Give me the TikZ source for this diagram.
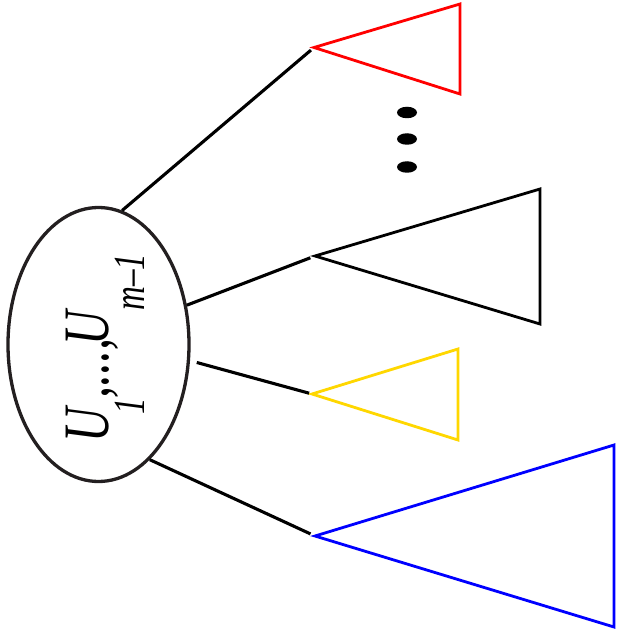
\documentclass[tikz,border=0pt]{standalone}
\usepackage{fontspec}
\setmainfont{Liberation Serif}
\usetikzlibrary{shapes.geometric}
\definecolor{ellgray}{HTML}{231F20}
\definecolor{goldy}{HTML}{FFD700}
\newcommand{\subtxt}[1]{\raisebox{-26.7pt}{\fontsize{33}{33}\selectfont #1}}
\tikzset{
  conn/.style={line width=3.1pt, black},
  tri/.style={line width=2.8pt, line join=miter},
  dotmark/.style={ellipse, fill=black, minimum width=20pt, minimum height=11.5pt, inner sep=0pt}
}
\begin{document}
\begin{tikzpicture}[x=1pt,y=1pt]
\useasboundingbox (0,0) rectangle (622,-639);
% central ellipse
\node[ellipse, draw=ellgray, line width=3.3pt, minimum width=181pt, minimum height=274pt, inner sep=0pt] (E) at (98.5,-344.5) {};
\node[rotate=90, anchor=base west, inner sep=0pt] (T) at (108,-443)
  {\scalebox{1}[1.35]{\fontsize{48}{48}\selectfont\itshape U\kern-6pt\subtxt{1}\kern-1pt,...,\kern-7pt U\subtxt{m\kern0.3pt–\kern0.3pt1}}};
% triangle tips
\coordinate (t1) at (314,-47.5);
\coordinate (t2) at (315,-256);
\coordinate (t3) at (312,-394);
\coordinate (t4) at (315,-536);
\draw[tri, red] (t1) -- (460,-4) -- (460,-94) -- cycle;
\draw[tri, black] (t2) -- (540,-189) -- (540,-324) -- cycle;
\draw[tri, goldy] (t3) -- (458,-349) -- (458,-440) -- cycle;
\draw[tri, blue] (t4) -- (614,-445) -- (614,-627) -- cycle;
% connectors
\draw[conn, shorten >=4pt] (E.80) -- (t1);
\draw[conn, shorten >=5pt] (E.24.3) -- (t2);
\draw[conn, shorten <=7pt, shorten >=3pt] (E.-10) -- (t3);
\draw[conn, shorten >=5pt] (E.-66) -- (t4);
% dots
\node[dotmark] (d1) at (407,-112.5) {};
\node[dotmark] (d2) at (407,-139) {};
\node[dotmark] (d3) at (407,-167) {};
\end{tikzpicture}
\end{document}
